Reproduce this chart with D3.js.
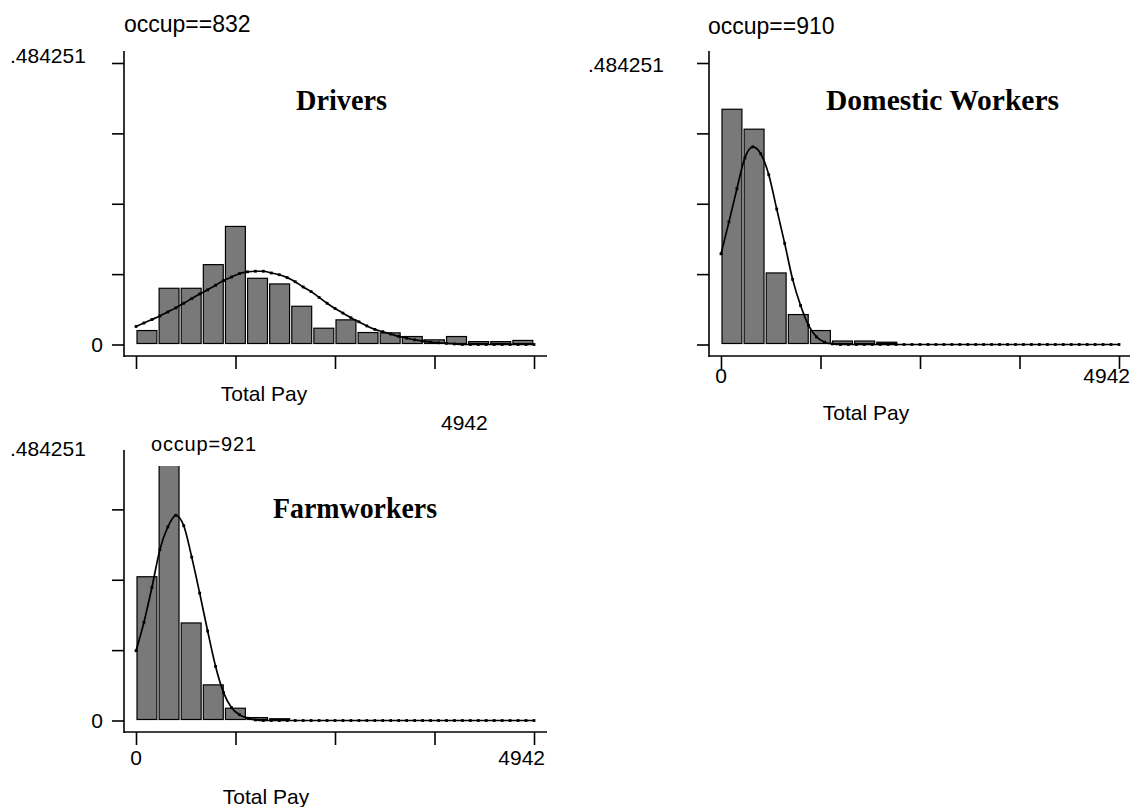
<!DOCTYPE html>
<html>
<head>
<meta charset="utf-8">
<script src="https://cdn.jsdelivr.net/npm/d3@7"></script>
<style>
  body { margin: 0; background: #fff; }
  svg { display: block; }
  text { font-family: "Liberation Sans", Arial, sans-serif; fill: #000; }
</style>
</head>
<body>
<script>
// ---- data ----
const xMax = 4942;
const yMax = 0.484251;
const xTicks = [0, 1235.5, 2471, 3706.5, 4942];
const yTicks = [0, 0.121063, 0.242126, 0.363188, 0.484251];

// histogram densities, 18 equal bins over 0..4942
const driversBars  = [0.024, 0.0967, 0.0967, 0.1374, 0.2031, 0.1139, 0.1042, 0.0658, 0.028,
                      0.0424, 0.0206, 0.020, 0.0137, 0.008, 0.0137, 0.005, 0.005, 0.007];
const domesticBars = [0.4047, 0.3704, 0.1231, 0.0515, 0.024, 0.006, 0.006, 0.004, 0,
                      0, 0, 0, 0, 0, 0, 0, 0, 0];
const farmBars     = [0.2473, 0.484, 0.1678, 0.0613, 0.0211, 0.005, 0.003, 0, 0,
                      0, 0, 0, 0, 0, 0, 0, 0, 0];

// normal overlay, 51 points over 0..4942
const driversCurve = [0.031, 0.037, 0.043, 0.049, 0.056, 0.063, 0.071, 0.079, 0.087, 0.094,
                      0.102, 0.110, 0.116, 0.122, 0.125, 0.126, 0.126, 0.123, 0.120, 0.115,
                      0.108, 0.099, 0.091, 0.081, 0.071, 0.062, 0.054, 0.046, 0.039, 0.032,
                      0.026, 0.022, 0.018, 0.014, 0.011, 0.008, 0.006, 0.004, 0.003, 0.002,
                      0.001, 0, 0, 0, 0, 0, 0, 0, 0, 0, 0];
const domesticCurve = [0.156, 0.211, 0.268, 0.321, 0.340, 0.328, 0.292, 0.233, 0.174, 0.112,
                       0.067, 0.033, 0.013, 0.004, 0.001, 0, 0, 0, 0, 0,
                       0, 0, 0, 0, 0, 0, 0, 0, 0, 0,
                       0, 0, 0, 0, 0, 0, 0, 0, 0, 0,
                       0, 0, 0, 0, 0, 0, 0, 0, 0, 0, 0];
const farmCurve = [0.120, 0.169, 0.229, 0.294, 0.333, 0.353, 0.335, 0.281, 0.219, 0.154,
                   0.093, 0.048, 0.022, 0.010, 0.004, 0.001, 0, 0, 0, 0,
                   0, 0, 0, 0, 0, 0, 0, 0, 0, 0,
                   0, 0, 0, 0, 0, 0, 0, 0, 0, 0,
                   0, 0, 0, 0, 0, 0, 0, 0, 0, 0, 0];

const occupLabels = ["occup==832", "occup==910", "occup=921"];
const groupNames = ["Drivers", "Domestic Workers", "Farmworkers"];
const xTitle = "Total Pay";

// ---- layout ----
const W = 1130, H = 807;
const plotW = 398, plotH = 281.5;

const svg = d3.select("body").append("svg")
  .attr("width", W)
  .attr("height", H);

const panels = [
  { x0: 136, y0: 344.5, bars: driversBars, curve: driversCurve, occup: occupLabels[0], name: groupNames[0],
    occupPos: [124, 32], occupSize: 23, topLab: [10, 63], zeroLab: true, xLabs: false,
    namePos: [296, 110], nameLen: 91, titlePos: [264, 401], axisTop: 51 },
  { x0: 721, y0: 344.5, bars: domesticBars, curve: domesticCurve, occup: occupLabels[1], name: groupNames[1],
    occupPos: [708, 34], occupSize: 23, topLab: [588, 72], zeroLab: false, xLabs: true,
    namePos: [826, 110], nameLen: 233, titlePos: [866, 420], axisTop: 51 },
  { x0: 136, y0: 720.5, bars: farmBars, curve: farmCurve, occup: occupLabels[2], name: groupNames[2],
    occupPos: [151, 451], occupSize: 20, occupLen: 105, topLab: [10, 456], zeroLab: true, xLabs: true,
    namePos: [273, 518], nameLen: 164, titlePos: [266, 804], axisTop: 450, clipTop: 466 }
];

panels.forEach(function(p, k) {
  const xScale = d3.scaleLinear().domain([0, xMax]).range([p.x0, p.x0 + plotW]);
  const yScale = d3.scaleLinear().domain([0, yMax]).range([p.y0, p.y0 - plotH]);

  const g = svg.append("g");

  // plot content, clipped where the reference cuts it off
  let content = g.append("g");
  if (p.clipTop) {
    svg.append("clipPath").attr("id", "clip" + k)
      .append("rect")
      .attr("x", 0).attr("y", p.clipTop)
      .attr("width", W).attr("height", H - p.clipTop);
    content.attr("clip-path", `url(#clip${k})`);
  }

  // histogram bars
  const binW = xMax / p.bars.length;
  content.selectAll("rect.bar")
    .data(p.bars.map((v, i) => ({ v: v, i: i })).filter(d => d.v > 0))
    .enter().append("rect")
    .attr("class", "bar")
    .attr("x", d => xScale(d.i * binW) + 1)
    .attr("width", d => xScale(binW) - xScale(0) - 2.2)
    .attr("y", d => yScale(d.v))
    .attr("height", d => yScale(0) - yScale(d.v) - 1)
    .style("fill", "#797979")
    .style("stroke", "#000")
    .style("stroke-width", 1.2);

  // normal density overlay
  const step = xMax / (p.curve.length - 1);
  const pts = p.curve.map((v, i) => [i * step, v]);
  const line = d3.line()
    .x(d => xScale(d[0]))
    .y(d => yScale(d[1]))
    .curve(d3.curveMonotoneX);

  content.append("path")
    .datum(pts)
    .attr("d", line)
    .style("fill", "none")
    .style("stroke", "#000")
    .style("stroke-width", 1.7);

  content.selectAll("rect.pt")
    .data(pts)
    .enter().append("rect")
    .attr("class", "pt")
    .attr("x", d => xScale(d[0]) - 1.4)
    .attr("y", d => yScale(d[1]) - 1.4)
    .attr("width", 2.8)
    .attr("height", 2.8)
    .style("fill", "#000");

  // y axis
  const axisX = p.x0 - 12;
  const axisY = p.y0 + 11.5;
  g.append("g")
    .attr("transform", `translate(${axisX},0)`)
    .call(d3.axisLeft(yScale)
      .tickValues(yTicks.filter(t => yScale(t) >= p.axisTop))
      .tickSize(12)
      .tickFormat(""))
    .call(a => a.select(".domain").remove())
    .selectAll("line").style("stroke", "#000").style("stroke-width", 1.6);

  g.append("line")
    .attr("x1", axisX).attr("x2", axisX)
    .attr("y1", p.axisTop).attr("y2", axisY + 1)
    .style("stroke", "#000").style("stroke-width", 1.6);

  // x axis
  g.append("g")
    .attr("transform", `translate(0,${axisY})`)
    .call(d3.axisBottom(xScale)
      .tickValues(xTicks)
      .tickSize(13)
      .tickFormat(""))
    .call(a => a.select(".domain").remove())
    .selectAll("line").style("stroke", "#000").style("stroke-width", 1.6);

  g.append("line")
    .attr("x1", axisX).attr("x2", p.x0 + plotW + 13)
    .attr("y1", axisY).attr("y2", axisY)
    .style("stroke", "#000").style("stroke-width", 1.6);

  // labels
  const occ = g.append("text")
    .attr("x", p.occupPos[0]).attr("y", p.occupPos[1])
    .style("font-size", p.occupSize + "px")
    .text(p.occup);
  if (p.occupLen) occ.attr("textLength", p.occupLen).attr("lengthAdjust", "spacing");

  g.append("text")
    .attr("x", p.topLab[0]).attr("y", p.topLab[1])
    .style("font-size", "21px")
    .text(".484251");

  if (p.zeroLab) {
    g.append("text")
      .attr("x", axisX - 21).attr("y", yScale(0) + 7.5)
      .style("font-size", "21px")
      .style("text-anchor", "end")
      .text("0");
  }

  if (p.xLabs) {
    g.append("text")
      .attr("x", xScale(0)).attr("y", axisY + 27 + (k === 2 ? 6 : 0))
      .style("font-size", "21px")
      .style("text-anchor", "middle")
      .text("0");
    g.append("text")
      .attr("x", xScale(xMax) + 11).attr("y", axisY + 27 + (k === 2 ? 6 : 0))
      .style("font-size", "21px")
      .style("text-anchor", "end")
      .text(String(xMax));
  }

  g.append("text")
    .attr("x", p.titlePos[0]).attr("y", p.titlePos[1])
    .style("font-size", "21px")
    .style("text-anchor", "middle")
    .text(xTitle);

  g.append("text")
    .attr("x", p.namePos[0]).attr("y", p.namePos[1])
    .attr("textLength", p.nameLen)
    .attr("lengthAdjust", "spacingAndGlyphs")
    .style("font-family", "'Liberation Serif', 'Times New Roman', serif")
    .style("font-weight", "bold")
    .style("font-size", "29px")
    .text(p.name);
});

// stray x-axis max label that sits under the first panel
svg.append("text")
  .attr("x", 441).attr("y", 430)
  .style("font-size", "21px")
  .text(String(xMax));
</script>
</body>
</html>
